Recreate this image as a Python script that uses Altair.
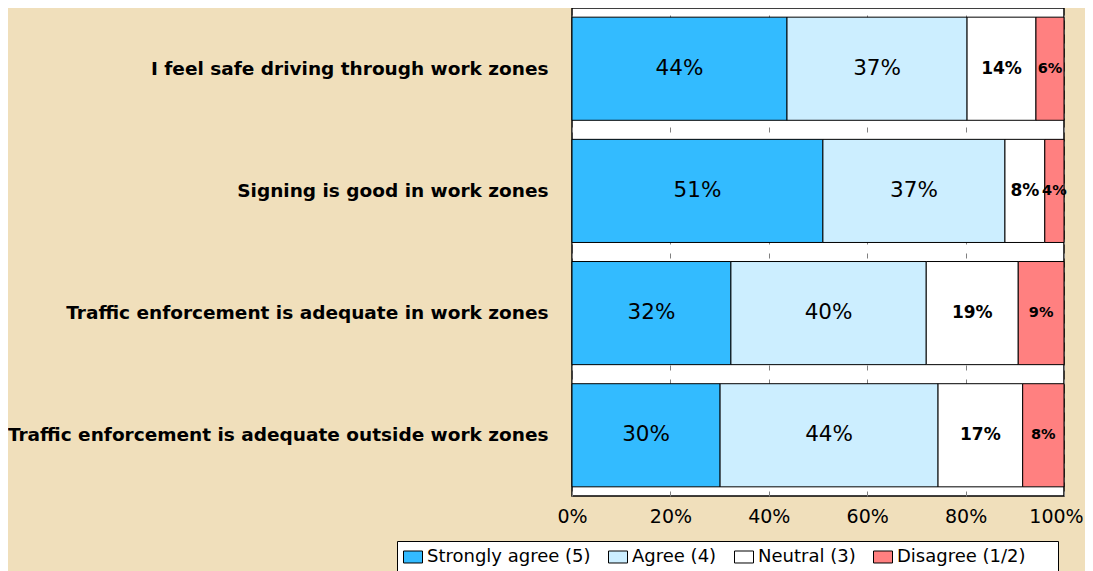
import altair as alt
import pandas as pd

questions = [
    "I feel safe driving through work zones",
    "Signing is good in work zones",
    "Traffic enforcement is adequate in work zones",
    "Traffic enforcement is adequate outside work zones",
]
categories = ["Strongly agree (5)", "Agree (4)", "Neutral (3)", "Disagree (1/2)"]
colors = ["#33BBFF", "#CCEEFF", "#FFFFFF", "#FF8080"]

strongly_agree = [43.7, 51.0, 32.3, 30.1]
agree = [36.6, 37.0, 39.7, 44.3]
neutral = [14.0, 8.1, 18.7, 17.2]
disagree = [5.7, 3.9, 9.3, 8.4]
labels_sa = ["44%", "51%", "32%", "30%"]
labels_a = ["37%", "37%", "40%", "44%"]
labels_n = ["14%", "8%", "19%", "17%"]
labels_d = ["6%", "4%", "9%", "8%"]

rows = []
for i, q in enumerate(questions):
    for j, (vals, labs) in enumerate(zip([strongly_agree, agree, neutral, disagree],
                                         [labels_sa, labels_a, labels_n, labels_d])):
        rows.append({"question": q, "category": categories[j], "order": j,
                     "value": vals[i], "label": labs[i]})
df = pd.DataFrame(rows)

FONT = "DejaVu Sans"

base = alt.Chart(df).transform_stack(
    stack="value", as_=["x0", "x1"], groupby=["question"],
    sort=[alt.SortField("order", "ascending")]
).transform_calculate(mid="(datum.x0 + datum.x1) / 2")

yenc = alt.Y("question:N", sort=questions, title=None,
             scale=alt.Scale(paddingInner=0.156, paddingOuter=0.075),
             axis=alt.Axis(labelFont=FONT, labelFontSize=18.5, labelFontWeight="bold",
                           labelColor="black", ticks=False, domain=False,
                           labelPadding=24, labelLimit=0))

bars = base.mark_bar(stroke="black", strokeWidth=1, opacity=1).encode(
    x=alt.X("x0:Q", scale=alt.Scale(domain=[0, 100], nice=False), title=None,
            axis=alt.Axis(values=[0, 20, 40, 60, 80, 100], labelExpr="datum.value + '%'",
                          labelFont=FONT, labelFontSize=19, labelColor="black",
                          ticks=False, domain=False, labelPadding=11,
                          labelOffset={"condition": {"test": "datum.value == 100", "value": -8},
                                       "value": 0},
                          grid=True, gridColor="#808080", gridDash=[5, 9],
                          labelFlush=False)),
    x2="x1:Q",
    y=yenc,
    color=alt.Color("category:N", sort=categories,
                    scale=alt.Scale(domain=categories, range=colors),
                    legend=alt.Legend(title=None, orient="none", legendX=-175, legendY=533,
                                      direction="horizontal", columns=4,
                                      labelFont=FONT, labelFontSize=18, labelColor="black",
                                      labelExpr="datum.label == 'Disagree (1/2)' ? datum.label + '\u2800\u2800' : datum.label",
                                      symbolType="M-1,-0.63H1V0.63H-1Z", symbolSize=361,
                                      symbolStrokeColor="black", symbolStrokeWidth=1,
                                      symbolOpacity=1,
                                      fillColor="white", strokeColor="black",
                                      padding=6, columnPadding=15, labelOffset=4,
                                      labelLimit=0)),
)

txt_normal = base.transform_filter("datum.order <= 1").mark_text(
    font=FONT, fontSize=21.5, color="black").encode(
    x="mid:Q", y=alt.Y("question:N", sort=questions), text="label:N")
txt_neutral = base.transform_filter("datum.order == 2").mark_text(
    font=FONT, fontSize=17, fontWeight="bold", color="black").encode(
    x="mid:Q", y=alt.Y("question:N", sort=questions), text="label:N")
txt_dis = base.transform_filter("datum.order == 3").mark_text(
    font=FONT, fontSize=14.5, fontWeight="bold", color="black").encode(
    x="mid:Q", y=alt.Y("question:N", sort=questions), text="label:N")

chart = alt.layer(bars, txt_normal, txt_neutral, txt_dis).properties(
    width=492, height=488,
    autosize=alt.AutoSizeParams(type="none"),
    padding={"left": 564, "top": 0, "right": 21, "bottom": 75},
).configure(background="#F0DFBB").configure_view(
    fill="white", stroke="black", strokeWidth=1.5)

chart.save("out.html", embed_options={"renderer": "svg", "actions": False})
